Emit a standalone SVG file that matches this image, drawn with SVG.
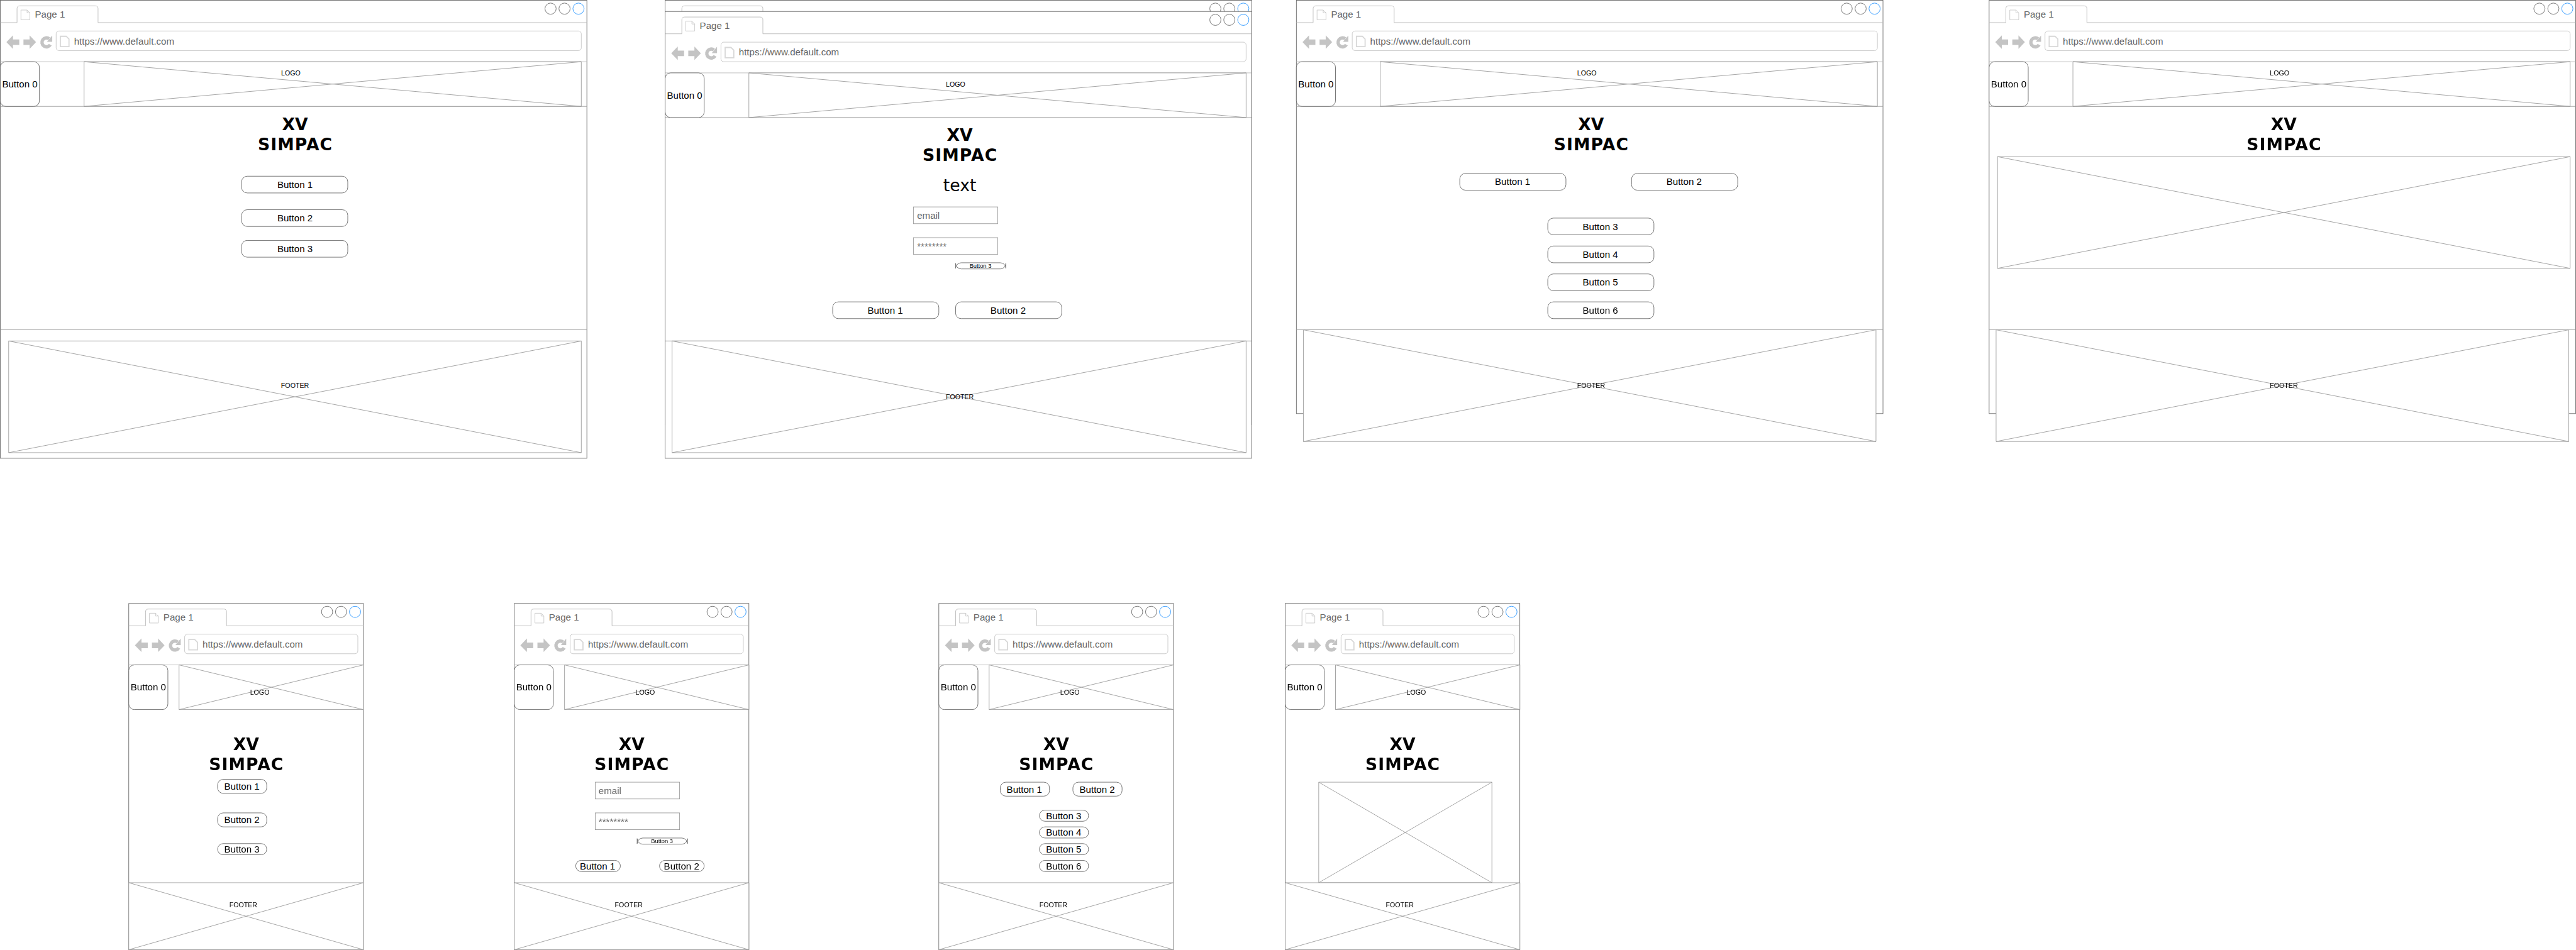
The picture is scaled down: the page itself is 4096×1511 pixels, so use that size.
<svg xmlns="http://www.w3.org/2000/svg" xmlns:xlink="http://www.w3.org/1999/xlink" width="4096" height="1511" viewBox="0 0 4096 1511">
<style>
text{font-family:"Liberation Sans",Arial,sans-serif;fill:#000}
.root{opacity:.999}
.win{fill:#fff;stroke:#666;stroke-width:1}
.lt{fill:none;stroke:#b8b8b8;stroke-width:1}
.div{fill:none;stroke:#999;stroke-width:1}
.ph{fill:#fff;stroke:#999;stroke-width:1}
.btn{fill:#fff;stroke:#666;stroke-width:1}
.c{fill:none;stroke:#666;stroke-width:1}
.cb{fill:none;stroke:#1e90ff;stroke-width:1}
.addr{fill:#fff;stroke:#c4c4c4;stroke-width:1}
.inp{fill:#fff;stroke:#999;stroke-width:1}
.g{fill:#666;font-size:17px}
.t{font-size:17px;text-anchor:middle}
.s{font-size:12px;text-anchor:middle}
.xs{font-size:10.5px;text-anchor:middle}
.h{font-family:"DejaVu Sans",Verdana,sans-serif;font-weight:bold;font-size:30px;text-anchor:middle}
.big{font-family:"DejaVu Sans",Verdana,sans-serif;font-size:30px;text-anchor:middle}
</style>
<defs>
<g id="icons">
<path d="M37 17.5H48L53 22.5V35H37ZM48 17.5V22.5H53" fill="#fff" stroke="#c8c8c8" stroke-width="1"/>
<path d="M107.5 64.5H118L123 69.5V83H107.5Z" fill="#fff" stroke="#d8d8d8" stroke-width="2"/>
<path d="M11 75L22.7 62.7V70H34V80H22.7V87Z M64 75L52.5 62.7V70H41.5V80H52.5V87Z M93 63V74.5H83.5Z" fill="#c4c4c4"/>
<path d="M89.5 79.5A8 8 0 1 1 87.5 69" fill="none" stroke="#c4c4c4" stroke-width="6"/>
</g>
<path id="b0" class="btn" d="M0 10a10 10 0 0 1 10-10h50a10 10 0 0 1 10 10v60a10 10 0 0 1-10 10h-50a10 10 0 0 1-10-10z"/>
<path id="b190" class="btn" d="M0 10a10 10 0 0 1 10-10h170a10 10 0 0 1 10 10v10a10 10 0 0 1-10 10h-170a10 10 0 0 1-10-10z"/>
<path id="b88" class="btn" d="M0 10a10 10 0 0 1 10-10h68a10 10 0 0 1 10 10v5a10 10 0 0 1-10 10h-68a10 10 0 0 1-10-10z"/>
<path id="b88s" class="btn" d="M0 10a10 10 0 0 1 10-10h68a10 10 0 0 1 10 10v0a10 10 0 0 1-10 10h-68a10 10 0 0 1-10-10z"/>
<path id="b80" class="btn" d="M0 10a10 10 0 0 1 10-10h60a10 10 0 0 1 10 10v0a10 10 0 0 1-10 10h-60a10 10 0 0 1-10-10z"/>
<path id="b90" class="btn" d="M0 10a10 10 0 0 1 10-10h70a10 10 0 0 1 10 10v-9a10 10 0 0 1-10 10h-70a10 10 0 0 1-10-10z"/>
</defs>
<g class="root" transform="scale(0.88831)">

<g id="wireframe-1" transform="translate(0.5 0.5)">
<rect class="win" width="1050" height="820"/>
<path class="lt" d="M0 40H30V15Q30 10 35 10H170Q175 10 175 15V40H1050"/>
<rect class="addr" x="100" y="55" width="940" height="35" rx="5"/>
<use href="#icons"/><text class="g" x="62" y="31">Page 1</text>
<circle class="c" cx="985" cy="15" r="10"/><circle class="c" cx="1010" cy="15" r="10"/><circle class="cb" cx="1035" cy="15" r="10"/>
<text class="g" x="132" y="79">https://www.default.com</text>
<path class="lt" d="M0 110H1050"/><path class="div" d="M0 190H1050M0 590H1050"/>
<use href="#b0" y="110"/><text class="t" x="35" y="156">Button 0</text>
<path class="ph" d="M150 110H1040V190H150ZM150 110L1040 190M150 190L1040 110"/><text class="s" x="520" y="134.5">LOGO</text>
<text class="h" x="527.5" y="232">XV</text><text class="h" x="527.5" y="268" textLength="133">SIMPAC</text>
<use href="#b190" x="432" y="315"/><text class="t" x="527.5" y="336">Button 1</text>
<use href="#b190" x="432" y="375"/><text class="t" x="527.5" y="396">Button 2</text>
<use href="#b190" x="432" y="430"/><text class="t" x="527.5" y="451">Button 3</text>
<path class="ph" d="M15 610H1040V810H15ZM15 610L1040 810M15 810L1040 610"/><text class="s" x="527.5" y="694.5">FOOTER</text>
</g>

<g id="wireframe-2-back" transform="translate(1190.5 0.5)">
<rect class="win" width="1050" height="760"/>
<path class="lt" d="M30 40V15Q30 10 35 10H170Q175 10 175 15V40"/>
<circle class="c" cx="985" cy="15" r="10"/><circle class="c" cx="1010" cy="15" r="10"/><circle class="cb" cx="1035" cy="15" r="10"/>
</g>

<g id="wireframe-2" transform="translate(1190.5 20.5)">
<rect class="win" width="1050" height="800"/>
<path class="lt" d="M0 40H30V15Q30 10 35 10H170Q175 10 175 15V40H1050"/>
<rect class="addr" x="100" y="55" width="940" height="35" rx="5"/>
<use href="#icons"/><text class="g" x="62" y="31">Page 1</text>
<circle class="c" cx="985" cy="15" r="10"/><circle class="c" cx="1010" cy="15" r="10"/><circle class="cb" cx="1035" cy="15" r="10"/>
<text class="g" x="132" y="79">https://www.default.com</text>
<path class="lt" d="M0 110H1050"/><path class="div" d="M0 190H1050M0 590H1050"/>
<use href="#b0" y="110"/><text class="t" x="35" y="156">Button 0</text>
<path class="ph" d="M150 110H1040V190H150ZM150 110L1040 190M150 190L1040 110"/><text class="s" x="520" y="134.5">LOGO</text>
<text class="h" x="527.5" y="232">XV</text><text class="h" x="527.5" y="268" textLength="133">SIMPAC</text>
<text class="big" x="527.5" y="321.5">text</text>
<rect class="inp" x="444.5" y="350" width="151" height="30"/><text class="g" x="451" y="371">email</text>
<rect class="inp" x="444.5" y="405" width="151" height="30"/><text class="g" x="451" y="426">********</text>
<use href="#b90" x="520" y="450"/><text class="xs" x="564.5" y="459">Button 3</text>
<use href="#b190" x="300" y="520"/><text class="t" x="394" y="541">Button 1</text>
<use href="#b190" x="520" y="520"/><text class="t" x="614" y="541">Button 2</text>
<path class="ph" d="M12.5 590H1040V790H12.5ZM12.5 590L1040 790M12.5 790L1040 590"/><text class="s" x="527.5" y="694.5">FOOTER</text>
</g>

<g id="wireframe-3" transform="translate(2320.5 0.5)">
<rect class="win" width="1050" height="740"/>
<path class="lt" d="M0 40H30V15Q30 10 35 10H170Q175 10 175 15V40H1050"/>
<rect class="addr" x="100" y="55" width="940" height="35" rx="5"/>
<use href="#icons"/><text class="g" x="62" y="31">Page 1</text>
<circle class="c" cx="985" cy="15" r="10"/><circle class="c" cx="1010" cy="15" r="10"/><circle class="cb" cx="1035" cy="15" r="10"/>
<text class="g" x="132" y="79">https://www.default.com</text>
<path class="lt" d="M0 110H1050"/><path class="div" d="M0 190H1050M0 590H1050"/>
<use href="#b0" y="110"/><text class="t" x="35" y="156">Button 0</text>
<path class="ph" d="M150 110H1040V190H150ZM150 110L1040 190M150 190L1040 110"/><text class="s" x="520" y="134.5">LOGO</text>
<text class="h" x="527.5" y="232">XV</text><text class="h" x="527.5" y="268" textLength="133">SIMPAC</text>
<use href="#b190" x="292.5" y="310"/><text class="t" x="387" y="331">Button 1</text>
<use href="#b190" x="600" y="310"/><text class="t" x="694" y="331">Button 2</text>
<use href="#b190" x="450" y="390"/><text class="t" x="544" y="411">Button 3</text>
<use href="#b190" x="450" y="440"/><text class="t" x="544" y="461">Button 4</text>
<use href="#b190" x="450" y="490"/><text class="t" x="544" y="511">Button 5</text>
<use href="#b190" x="450" y="540"/><text class="t" x="544" y="561">Button 6</text>
<path class="ph" d="M12.5 590H1037.5V790H12.5ZM12.5 590L1037.5 790M12.5 790L1037.5 590"/><text class="s" x="527.5" y="694.5">FOOTER</text>
</g>

<g id="wireframe-4" transform="translate(3560.5 0.5)">
<rect class="win" width="1050" height="740"/>
<path class="lt" d="M0 40H30V15Q30 10 35 10H170Q175 10 175 15V40H1050"/>
<rect class="addr" x="100" y="55" width="940" height="35" rx="5"/>
<use href="#icons"/><text class="g" x="62" y="31">Page 1</text>
<circle class="c" cx="985" cy="15" r="10"/><circle class="c" cx="1010" cy="15" r="10"/><circle class="cb" cx="1035" cy="15" r="10"/>
<text class="g" x="132" y="79">https://www.default.com</text>
<path class="lt" d="M0 110H1050"/><path class="div" d="M0 190H1050M0 590H1050"/>
<use href="#b0" y="110"/><text class="t" x="35" y="156">Button 0</text>
<path class="ph" d="M150 110H1040V190H150ZM150 110L1040 190M150 190L1040 110"/><text class="s" x="520" y="134.5">LOGO</text>
<text class="h" x="527.5" y="232">XV</text><text class="h" x="527.5" y="268" textLength="133">SIMPAC</text>
<path class="ph" d="M15 280H1040V480H15ZM15 280L1040 480M15 480L1040 280"/>
<path class="ph" d="M12.5 590H1037.5V790H12.5ZM12.5 590L1037.5 790M12.5 790L1037.5 590"/><text class="s" x="527.5" y="694.5">FOOTER</text>
</g>

<g id="mobile-1" transform="translate(230.5 1080.5)">
<rect class="win" width="420" height="620"/>
<path class="lt" d="M0 40H30V15Q30 10 35 10H170Q175 10 175 15V40H420"/>
<rect class="addr" x="100" y="55" width="310" height="35" rx="5"/>
<use href="#icons"/><text class="g" x="62" y="31">Page 1</text>
<circle class="c" cx="355" cy="15" r="10"/><circle class="c" cx="380" cy="15" r="10"/><circle class="cb" cx="405" cy="15" r="10"/>
<text class="g" x="132" y="79">https://www.default.com</text>
<path class="lt" d="M0 110H420"/>
<use href="#b0" y="110"/><text class="t" x="35" y="156">Button 0</text>
<path class="ph" d="M90 110H420V190H90ZM90 110L420 190M90 190L420 110"/><text class="s" x="234.5" y="164">LOGO</text>
<text class="h" x="210" y="262">XV</text><text class="h" x="210" y="298" textLength="133">SIMPAC</text>
<use href="#b88" x="159" y="315"/><text class="t" x="202.5" y="333.5">Button 1</text>
<use href="#b88" x="159" y="375"/><text class="t" x="202.5" y="393.5">Button 2</text>
<use href="#b88s" x="159" y="430"/><text class="t" x="202.5" y="446">Button 3</text>
<path class="ph" d="M0 500H420V620H0ZM0 500L420 620M0 620L420 500"/><text class="s" x="205" y="544.5">FOOTER</text>
</g>

<g id="mobile-2" transform="translate(920.5 1080.5)">
<rect class="win" width="420" height="620"/>
<path class="lt" d="M0 40H30V15Q30 10 35 10H170Q175 10 175 15V40H420"/>
<rect class="addr" x="100" y="55" width="310" height="35" rx="5"/>
<use href="#icons"/><text class="g" x="62" y="31">Page 1</text>
<circle class="c" cx="355" cy="15" r="10"/><circle class="c" cx="380" cy="15" r="10"/><circle class="cb" cx="405" cy="15" r="10"/>
<text class="g" x="132" y="79">https://www.default.com</text>
<path class="lt" d="M0 110H420"/>
<use href="#b0" y="110"/><text class="t" x="35" y="156">Button 0</text>
<path class="ph" d="M90 110H420V190H90ZM90 110L420 190M90 190L420 110"/><text class="s" x="234.5" y="164">LOGO</text>
<text class="h" x="210" y="262">XV</text><text class="h" x="210" y="298" textLength="133">SIMPAC</text>
<rect class="inp" x="145" y="320" width="151" height="30"/><text class="g" x="151" y="341">email</text>
<rect class="inp" x="145" y="375" width="151" height="30"/><text class="g" x="151" y="396">********</text>
<use href="#b90" x="220" y="420"/><text class="xs" x="264.5" y="429">Button 3</text>
<use href="#b80" x="110" y="460"/><text class="t" x="149" y="476">Button 1</text>
<use href="#b80" x="260" y="460"/><text class="t" x="299.5" y="476">Button 2</text>
<path class="ph" d="M0 500H420V620H0ZM0 500L420 620M0 620L420 500"/><text class="s" x="205" y="544.5">FOOTER</text>
</g>

<g id="mobile-3" transform="translate(1680.5 1080.5)">
<rect class="win" width="420" height="620"/>
<path class="lt" d="M0 40H30V15Q30 10 35 10H170Q175 10 175 15V40H420"/>
<rect class="addr" x="100" y="55" width="310" height="35" rx="5"/>
<use href="#icons"/><text class="g" x="62" y="31">Page 1</text>
<circle class="c" cx="355" cy="15" r="10"/><circle class="c" cx="380" cy="15" r="10"/><circle class="cb" cx="405" cy="15" r="10"/>
<text class="g" x="132" y="79">https://www.default.com</text>
<path class="lt" d="M0 110H420"/>
<use href="#b0" y="110"/><text class="t" x="35" y="156">Button 0</text>
<path class="ph" d="M90 110H420V190H90ZM90 110L420 190M90 190L420 110"/><text class="s" x="234.5" y="164">LOGO</text>
<text class="h" x="210" y="262">XV</text><text class="h" x="210" y="298" textLength="133">SIMPAC</text>
<use href="#b88" x="110" y="320"/><text class="t" x="153" y="338.5">Button 1</text>
<use href="#b88" x="240" y="320"/><text class="t" x="283.5" y="338.5">Button 2</text>
<use href="#b88s" x="180" y="370"/><text class="t" x="223.5" y="386">Button 3</text>
<use href="#b88s" x="180" y="400"/><text class="t" x="223.5" y="416">Button 4</text>
<use href="#b88s" x="180" y="430"/><text class="t" x="223.5" y="446">Button 5</text>
<use href="#b88s" x="180" y="460"/><text class="t" x="223.5" y="476">Button 6</text>
<path class="ph" d="M0 500H420V620H0ZM0 500L420 620M0 620L420 500"/><text class="s" x="205" y="544.5">FOOTER</text>
</g>

<g id="mobile-4" transform="translate(2300.5 1080.5)">
<rect class="win" width="420" height="620"/>
<path class="lt" d="M0 40H30V15Q30 10 35 10H170Q175 10 175 15V40H420"/>
<rect class="addr" x="100" y="55" width="310" height="35" rx="5"/>
<use href="#icons"/><text class="g" x="62" y="31">Page 1</text>
<circle class="c" cx="355" cy="15" r="10"/><circle class="c" cx="380" cy="15" r="10"/><circle class="cb" cx="405" cy="15" r="10"/>
<text class="g" x="132" y="79">https://www.default.com</text>
<path class="lt" d="M0 110H420"/>
<use href="#b0" y="110"/><text class="t" x="35" y="156">Button 0</text>
<path class="ph" d="M90 110H420V190H90ZM90 110L420 190M90 190L420 110"/><text class="s" x="234.5" y="164">LOGO</text>
<text class="h" x="210" y="262">XV</text><text class="h" x="210" y="298" textLength="133">SIMPAC</text>
<path class="ph" d="M60 320H370V500H60ZM60 320L370 500M60 500L370 320"/>
<path class="ph" d="M0 500H420V620H0ZM0 500L420 620M0 620L420 500"/><text class="s" x="205" y="544.5">FOOTER</text>
</g>

</g>
</svg>
